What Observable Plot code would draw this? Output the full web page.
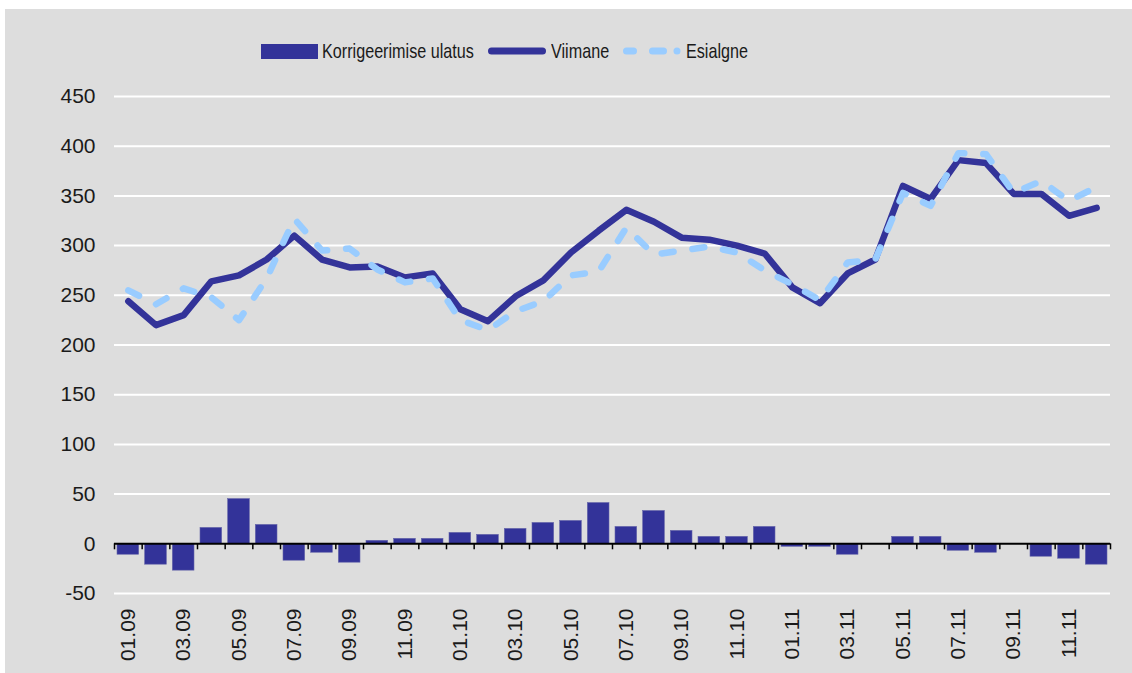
<!DOCTYPE html>
<html>
<head>
<meta charset="utf-8">
<script src="https://cdn.jsdelivr.net/npm/d3@7"></script>
<script src="https://cdn.jsdelivr.net/npm/@observablehq/plot@0.6"></script>
<style>
  html, body { margin: 0; padding: 0; background: #ffffff; }
  #panel { position: absolute; left: 5px; top: 9px; width: 1127px; height: 664px; background: #dddddd; overflow: hidden; }
  #legend { position: relative; height: 70px; font-family: "Liberation Sans", Arial, sans-serif; font-size: 21px; color: #1a1a1a; }
  #legend .it { position: absolute; top: 30px; line-height: 24px; white-space: nowrap; transform: scaleX(0.77); transform-origin: 0 50%; }
  #legend svg { position: absolute; }
  #chart svg { display: block; }
</style>
</head>
<body>
<div id="panel">
  <div id="legend"></div>
  <div id="chart"></div>
</div>
<script>
const months = ["01.09","02.09","03.09","04.09","05.09","06.09","07.09","08.09","09.09","10.09","11.09","12.09",
                "01.10","02.10","03.10","04.10","05.10","06.10","07.10","08.10","09.10","10.10","11.10","12.10",
                "01.11","02.11","03.11","04.11","05.11","06.11","07.11","08.11","09.11","10.11","11.11","12.11"];
const viimane = [244,220,230,264,270,286,310,286,278,279,268,272,
                 236,224,249,265,293,315,336,324,308,306,300,292,
                 258,242,272,286,360,347,386,383,352,352,330,338];
const esialgne = [255,241,257,248,225,267,327,295,297,276,263,267,
                  225,215,234,244,270,274,318,291,295,299,293,275,
                  261,245,283,286,353,340,393,392,353,365,345,359];
const korrigeerimine = [-11,-21,-27,16,45,19,-17,-9,-19,3,5,5,
                        11,9,15,21,23,41,17,33,13,7,7,17,
                        -3,-3,-11,0,7,7,-7,-9,0,-13,-15,-21];
const yTicks = [-50,0,50,100,150,200,250,300,350,400,450];
const seriesNames = ["Korrigeerimise ulatus","Viimane","Esialgne"];
const colors = {dark: "#333399", light: "#99ccff"};

const rows = months.map((m, i) => ({i, m, v: viimane[i], e: esialgne[i], k: korrigeerimine[i]}));
const boundaries = d3.range(months.length + 1).map(k => k - 0.5);

const chart = Plot.plot({
  width: 1127,
  height: 594,
  marginLeft: 109,
  marginRight: 22,
  marginTop: 17,
  marginBottom: 80,
  style: {background: "transparent", fontFamily: "'Liberation Sans', Arial, sans-serif", fontSize: "21px", color: "#1a1a1a"},
  x: {type: "linear", domain: [-0.5, months.length - 0.5]},
  y: {domain: [-50, 450]},
  marks: [
    Plot.ruleY(yTicks.filter(t => t !== 0), {stroke: "#ffffff", strokeWidth: 2}),
    Plot.rectY(rows, {x1: d => d.i - 0.5, x2: d => d.i + 0.5, y1: 0, y2: "k", fill: colors.dark, stroke: "#6666aa", strokeWidth: 0.6, insetLeft: 3, insetRight: 3}),
    Plot.ruleY([0], {stroke: "#000000", strokeWidth: 2}),
    Plot.ruleX(boundaries, {x: d => d, y1: 0, y2: 0, insetBottom: -6, stroke: "#000000", strokeWidth: 1.5}),
    Plot.line(rows, {x: "i", y: "v", stroke: colors.dark, strokeWidth: 6.5, strokeLinecap: "round", strokeLinejoin: "round"}),
    Plot.line(rows, {x: "i", y: "e", stroke: colors.light, strokeWidth: 6.5, strokeDasharray: "12 19", strokeLinecap: "round", strokeLinejoin: "round"}),
    Plot.axisY({ticks: yTicks, tickSize: 0, tickPadding: 19, tickFormat: d => String(d), label: null}),
    Plot.axisX({ticks: d3.range(0, months.length, 2), tickSize: 0, tickPadding: 15, tickRotate: -90, tickFormat: i => months[i], label: null})
  ]
});
document.getElementById("chart").appendChild(chart);

// Legend
const legend = document.getElementById("legend");
const ns = "http://www.w3.org/2000/svg";
function swatch(left, build) {
  const s = document.createElementNS(ns, "svg");
  s.setAttribute("width", 60); s.setAttribute("height", 20);
  s.style.left = left + "px"; s.style.top = "32px";
  build(s);
  legend.appendChild(s);
}
function label(left, text) {
  const d = document.createElement("div");
  d.className = "it"; d.style.left = left + "px"; d.textContent = text;
  legend.appendChild(d);
}
swatch(256, s => {
  const r = document.createElementNS(ns, "rect");
  r.setAttribute("x", 0); r.setAttribute("y", 3); r.setAttribute("width", 57); r.setAttribute("height", 15);
  r.setAttribute("fill", colors.dark); s.appendChild(r);
});
label(317, seriesNames[0]);
swatch(483, s => {
  const l = document.createElementNS(ns, "line");
  l.setAttribute("x1", 3.5); l.setAttribute("x2", 54.5); l.setAttribute("y1", 10); l.setAttribute("y2", 10);
  l.setAttribute("stroke", colors.dark); l.setAttribute("stroke-width", 7); l.setAttribute("stroke-linecap", "round");
  s.appendChild(l);
});
label(546, seriesNames[1]);
swatch(618, s => {
  const l = document.createElementNS(ns, "line");
  l.setAttribute("x1", 3.5); l.setAttribute("x2", 56); l.setAttribute("y1", 10); l.setAttribute("y2", 10);
  l.setAttribute("stroke", colors.light); l.setAttribute("stroke-width", 7); l.setAttribute("stroke-linecap", "round");
  l.setAttribute("stroke-dasharray", "7 19 11 13.5 0.01 100");
  s.appendChild(l);
});
label(681, seriesNames[2]);
</script>
</body>
</html>
